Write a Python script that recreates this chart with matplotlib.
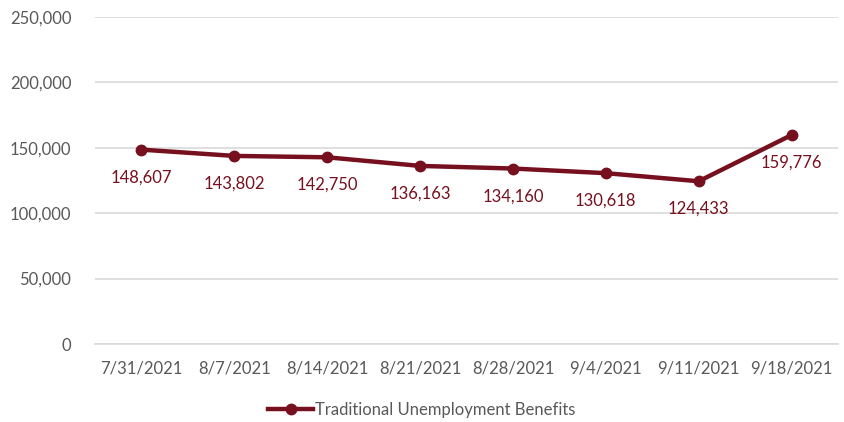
import matplotlib.pyplot as plt
from matplotlib.ticker import FuncFormatter, MultipleLocator

plt.rcParams['font.family'] = ['Lato', 'DejaVu Sans']

# data
weeks = ['7/31/2021', '8/7/2021', '8/14/2021', '8/21/2021', '8/28/2021',
         '9/4/2021', '9/11/2021', '9/18/2021']
claims = [148607, 143802, 142750, 136163, 134160, 130618, 124433, 159776]
series_name = 'Traditional Unemployment Benefits'

maroon = '#76101e'
grey_text = '#595959'
grid_c = '#d9d9d9'

fig = plt.figure(figsize=(8.44, 4.22), dpi=100)
ax = fig.add_axes([0.1126, 0.1848, 0.8803, 0.7749])

x = list(range(len(weeks)))
ax.plot(x, claims, color=maroon, lw=3.2, marker='o', ms=7.5,
        solid_joinstyle='round', label=series_name, zorder=3)

# data labels, centred below the points
for i, v in enumerate(claims):
    ax.annotate(f'{v:,}', (i, v), xytext=(0, -20), textcoords='offset points',
                ha='center', va='center', color=maroon, fontsize=12)

ax.set_xlim(-0.5, len(weeks) - 0.5)
ax.set_ylim(0, 250000)
ax.yaxis.set_major_locator(MultipleLocator(50000))
ax.yaxis.set_major_formatter(FuncFormatter(lambda v, p: f'{int(v):,}'))
ax.set_xticks(x)
ax.set_xticklabels(weeks)

ax.grid(axis='y', color=grid_c, lw=1.2)
ax.set_axisbelow(True)
for s in ['top', 'right', 'left']:
    ax.spines[s].set_visible(False)
ax.spines['bottom'].set_color(grid_c)
ax.spines['bottom'].set_linewidth(1.2)
ax.tick_params(length=0, labelsize=12, colors=grey_text, pad=12)
ax.tick_params(axis='y', pad=17)

leg = fig.legend(loc='center', bbox_to_anchor=(0.5, 0.028), frameon=False,
                 fontsize=12, handlelength=2.7, handletextpad=0.1)
for t in leg.get_texts():
    t.set_color(grey_text)

fig.savefig('out.png', dpi=100)
